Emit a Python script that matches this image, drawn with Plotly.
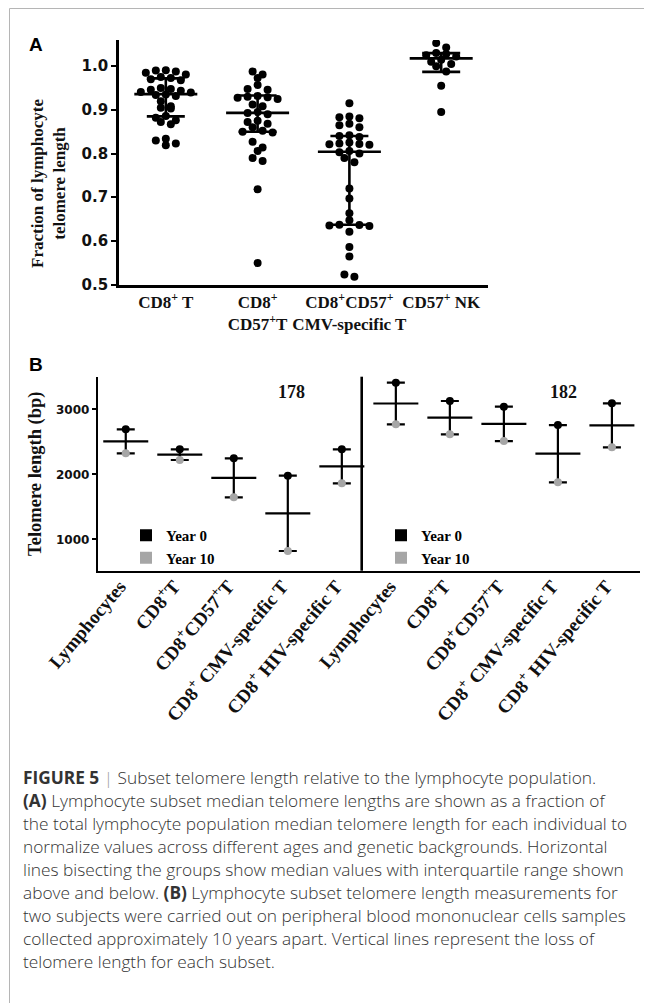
import numpy as np
import plotly.graph_objects as go

W, H = 652, 1003
OFF = 8                      # page body margin of the browser
FW, FH = W - OFF, H - OFF    # figure size so that it fits the window

# ---------------- Panel A data ----------------
a_groups = ["CD8<sup>+</sup> T",
            "CD8<sup>+</sup><br>CD57<sup>+</sup>T",
            "CD8<sup>+</sup>CD57<sup>+</sup><br>CMV-specific T",
            "CD57<sup>+</sup> NK"]
a_cd8 = [0.990, 0.991, 0.988, 0.985, 0.981, 0.975, 0.973, 0.970, 0.968, 0.950,
         0.948, 0.946, 0.944, 0.941, 0.940, 0.935, 0.934, 0.932, 0.920, 0.908,
         0.905, 0.903, 0.886, 0.882, 0.876, 0.872, 0.867, 0.834, 0.830, 0.823, 0.819]
a_cd8cd57 = [0.988, 0.981, 0.973, 0.957, 0.948, 0.946, 0.932, 0.930, 0.929, 0.928,
             0.925, 0.912, 0.908, 0.895, 0.893, 0.890, 0.875, 0.872, 0.868, 0.860,
             0.852, 0.850, 0.848, 0.827, 0.814, 0.806, 0.790, 0.783, 0.718, 0.549]
a_cmv = [0.915, 0.885, 0.883, 0.881, 0.868, 0.865, 0.860, 0.842, 0.840, 0.838,
         0.825, 0.823, 0.822, 0.821, 0.820, 0.806, 0.803, 0.800, 0.790, 0.780,
         0.720, 0.697, 0.663, 0.647, 0.637, 0.636, 0.635, 0.634, 0.621, 0.586,
         0.564, 0.523, 0.518]
a_nk = [1.053, 1.043, 1.030, 1.028, 1.025, 1.022, 1.015, 1.010, 1.005, 1.000,
        0.988, 0.955, 0.895]
a_median = [0.936, 0.893, 0.804, 1.018]
a_q1 = [0.885, 0.850, 0.637, 0.987]
a_q3 = [0.972, 0.933, 0.840, 1.030]
a_yticks = [0.5, 0.6, 0.7, 0.8, 0.9, 1.0]
a_ytitle = "Fraction of lymphocyte<br>telomere length"

# ---------------- Panel B data ----------------
b_cats = ["Lymphocytes", "CD8<sup>+</sup>T", "CD8<sup>+</sup>CD57<sup>+</sup>T",
          "CD8<sup>+</sup> CMV-specific T", "CD8<sup>+</sup> HIV-specific T"]
b_subjects = ["178", "182"]
b_year0_178 = [2692, 2385, 2246, 1979, 2385]
b_year10_178 = [2323, 2220, 1646, 820, 1862]
b_year0_182 = [3410, 3128, 3041, 2758, 3092]
b_year10_182 = [2769, 2615, 2512, 1877, 2415]
b_yticks = [1000, 2000, 3000]

# ---------------- layout geometry (pixels of the window) ----------------
def px_x(p):
    return (p - OFF) / FW

def px_y(p):
    return 1 - (p - OFF) / FH

A_L, A_R, A_T, A_B = 119, 488, 40, 284.5
A_XR = [0.49, 4.51]
A_YR = [0.5, 1.06]
B_L, B_R, B_T, B_B = 98, 640, 376.7, 570.7
B_XR = [0.486, 10.52]
B_YR = [517, 3502]

ax_ppu = (A_R - A_L) / (A_XR[1] - A_XR[0])
ay_ppu = (A_B - A_T) / (A_YR[1] - A_YR[0])
bx_ppu = (B_R - B_L) / (B_XR[1] - B_XR[0])
by_ppu = (B_B - B_T) / (B_YR[1] - B_YR[0])


def bx_of(p):
    return B_XR[0] + (p - B_L) / bx_ppu


def by_of(p):
    return B_YR[0] + (B_B - p) / by_ppu


def swarm(vals, row_h=6.0, step=10.0):
    """Row-based scatter layout (GraphPad style): offsets in px."""
    vals = np.asarray(vals, float)
    order = list(np.argsort(-vals))
    offs = np.zeros(len(vals))
    rows, cur = [], []
    for i in order:
        if cur and (vals[cur[0]] - vals[i]) * ay_ppu > row_h:
            rows.append(cur)
            cur = []
        cur.append(i)
    if cur:
        rows.append(cur)
    for r in rows:
        n = len(r)
        pos = [(k - (n - 1) / 2) * step for k in range(n)]
        pos.sort(key=lambda p: (abs(p), p))
        for i, p in zip(r, pos):
            offs[i] = p
    return offs


fig = go.Figure()

BLACK = "#000000"
GREY = "#a6a6a6"

# ---- Panel A: dots ----
groups = [a_cd8, a_cd8cd57, a_cmv, a_nk]
for gi, vals in enumerate(groups):
    offs = swarm(vals)
    fig.add_trace(go.Scatter(
        x=[gi + 1 + o / ax_ppu for o in offs], y=vals, mode="markers",
        marker=dict(color=BLACK, size=8, line=dict(width=0)),
        showlegend=False, xaxis="x", yaxis="y", hoverinfo="y"))

# ---- Panel A: median / IQR lines ----
med_hw = 31.5 / ax_ppu
cap_hw = 19.0 / ax_ppu
lx, ly = [], []
for i in range(4):
    c = i + 1
    lx += [c - med_hw, c + med_hw, None]
    ly += [a_median[i], a_median[i], None]
    lx += [c - cap_hw, c + cap_hw, None]
    ly += [a_q3[i], a_q3[i], None]
    lx += [c - cap_hw, c + cap_hw, None]
    ly += [a_q1[i], a_q1[i], None]
    lx += [c, c, None]
    ly += [a_q1[i], a_q3[i], None]
fig.add_trace(go.Scatter(x=lx, y=ly, mode="lines",
                         line=dict(color=BLACK, width=2.6),
                         showlegend=False, xaxis="x", yaxis="y", hoverinfo="skip"))

# ---- Panel B ----
bmid_hw = 22.5 / bx_ppu
bcap_hw = 9.0 / bx_ppu
subj_data = [(b_year0_178, b_year10_178), (b_year0_182, b_year10_182)]
for si, (y0, y10) in enumerate(subj_data):
    xs = [si * len(b_cats) + k + 1 for k in range(len(b_cats))]
    blx, bly = [], []
    for k, x in enumerate(xs):
        mean = (y0[k] + y10[k]) / 2
        blx += [x, x, None, x - bcap_hw, x + bcap_hw, None, x - bcap_hw, x + bcap_hw, None,
                x - bmid_hw, x + bmid_hw, None]
        bly += [y0[k], y10[k], None, y0[k], y0[k], None, y10[k], y10[k], None,
                mean, mean, None]
    fig.add_trace(go.Scatter(x=blx, y=bly, mode="lines",
                             line=dict(color=BLACK, width=2.2),
                             showlegend=False, xaxis="x2", yaxis="y2", hoverinfo="skip"))
    leg = "legend" if si == 0 else "legend2"
    fig.add_trace(go.Scatter(x=xs, y=y0, mode="markers", name="Year 0",
                             marker=dict(color=BLACK, size=8, symbol="circle"),
                             showlegend=False, xaxis="x2", yaxis="y2"))
    fig.add_trace(go.Scatter(x=xs, y=y10, mode="markers", name="Year 10",
                             marker=dict(color=GREY, size=8, symbol="circle"),
                             showlegend=False, xaxis="x2", yaxis="y2"))
    # legend entries (square keys as in the original figure)
    fig.add_trace(go.Scatter(x=[None], y=[None], mode="markers", name="Year 0",
                             marker=dict(color=BLACK, size=6, symbol="square"),
                             legend=leg, xaxis="x2", yaxis="y2"))
    fig.add_trace(go.Scatter(x=[None], y=[None], mode="markers", name="Year 10",
                             marker=dict(color=GREY, size=6, symbol="square"),
                             legend=leg, xaxis="x2", yaxis="y2"))

SERIF = "Liberation Serif"
NUM = "DejaVu Sans"

legend_style = dict(
    bgcolor="rgba(0,0,0,0)", borderwidth=0,
    font=dict(family=SERIF, size=15, color=BLACK, weight="bold"),
    xanchor="left", yanchor="top", xref="paper", yref="paper",
    itemsizing="constant", tracegroupgap=0, itemwidth=30,
)

fig.update_layout(
    width=FW, height=FH,
    margin=dict(l=0, r=0, t=0, b=0, autoexpand=False),
    paper_bgcolor="white", plot_bgcolor="white",
    xaxis=dict(domain=[px_x(A_L), px_x(A_R)], range=A_XR,
               tickvals=[1, 2, 3, 4], ticktext=a_groups, tickangle=0,
               showline=True, linecolor=BLACK, linewidth=2.6, ticks="",
               showgrid=False, zeroline=False, automargin=False,
               tickfont=dict(family=SERIF, size=17, color="#111", weight="bold"),
               anchor="y"),
    yaxis=dict(domain=[px_y(A_B), px_y(A_T)], range=A_YR,
               tickvals=a_yticks, tickformat=".1f",
               showline=True, linecolor=BLACK, linewidth=2.6,
               ticks="outside", ticklen=5, tickwidth=2, tickcolor=BLACK,
               showgrid=False, zeroline=False, automargin=False,
               tickfont=dict(family=NUM, size=15, color="#111", weight="bold"),
               anchor="x"),
    xaxis2=dict(domain=[px_x(B_L), px_x(B_R)], range=B_XR,
                tickvals=list(range(1, 11)), ticktext=b_cats + b_cats,
                tickangle=-50, ticklabelstandoff=-5, ticklabelshift=-6,
                showline=True, linecolor=BLACK, linewidth=2.4, ticks="",
                showgrid=False, zeroline=False, automargin=False,
                tickfont=dict(family=SERIF, size=19, color="#111", weight="bold"),
                anchor="y2"),
    yaxis2=dict(domain=[px_y(B_B), px_y(B_T)], range=B_YR,
                tickvals=b_yticks,
                showline=True, linecolor=BLACK, linewidth=2.4,
                ticks="outside", ticklen=4, tickwidth=1.5, tickcolor=BLACK,
                showgrid=False, zeroline=False, automargin=False,
                tickfont=dict(family=NUM, size=12, color="#111", weight="bold"),
                title=dict(text="Telomere length (bp)",
                           font=dict(family=SERIF, size=18.5, color="#111", weight="bold"),
                           standoff=10),
                anchor="x2"),
    legend=dict(x=px_x(126), y=px_y(519), **legend_style),
    legend2=dict(x=px_x(381), y=px_y(519), **legend_style),
)

# divider between subjects in panel B
fig.add_shape(type="line", xref="paper", yref="paper",
              x0=px_x(361.7), x1=px_x(361.7), y0=px_y(B_B), y1=px_y(B_T),
              line=dict(color=BLACK, width=2.6))

# frame lines (left and top) of the figure box
fig.add_shape(type="line", xref="paper", yref="paper",
              x0=px_x(9.5), x1=px_x(9.5), y0=0, y1=px_y(8.5),
              line=dict(color="#b5b5b5", width=1))
fig.add_shape(type="line", xref="paper", yref="paper",
              x0=px_x(9.5), x1=1, y0=px_y(8.5), y1=px_y(8.5),
              line=dict(color="#b5b5b5", width=1))

ann = []
ann.append(dict(text="<b>A</b>", x=px_x(27), y=px_y(45), xref="paper", yref="paper",
                xanchor="left", yanchor="middle", showarrow=False,
                font=dict(family="Liberation Sans", size=19, color=BLACK)))
ann.append(dict(text="<b>B</b>", x=px_x(27), y=px_y(364), xref="paper", yref="paper",
                xanchor="left", yanchor="middle", showarrow=False,
                font=dict(family="Liberation Sans", size=19, color=BLACK)))
# panel A y-axis title
ann.append(dict(text="<b>%s</b>" % a_ytitle.replace("<br>", "</b><br><b>"),
                x=px_x(48), y=px_y(184), xref="paper", yref="paper",
                xanchor="center", yanchor="middle", textangle=-90, showarrow=False,
                font=dict(family=SERIF, size=17, color="#111")))
subj_px = [291.7, 563.0]
for si, subj in enumerate(b_subjects):
    ann.append(dict(text="<b>%s</b>" % subj, x=bx_of(subj_px[si]), y=by_of(391.7),
                    xref="x2", yref="y2", xanchor="center", yanchor="middle",
                    showarrow=False,
                    font=dict(family=SERIF, size=18, color="#111")))

caption = [
    "<b>FIGURE 5</b> <span style='color:#9a9a9a'>|</span> Subset telomere length relative to the lymphocyte population.",
    "<b>(A)</b> Lymphocyte subset median telomere lengths are shown as a fraction of",
    "the total lymphocyte population median telomere length for each individual to",
    "normalize values across different ages and genetic backgrounds. Horizontal",
    "lines bisecting the groups show median values with interquartile range shown",
    "above and below. <b>(B)</b> Lymphocyte subset telomere length measurements for",
    "two subjects were carried out on peripheral blood mononuclear cells samples",
    "collected approximately 10 years apart. Vertical lines represent the loss of",
    "telomere length for each subset.",
]
for i, line in enumerate(caption):
    ann.append(dict(text=line, x=px_x(21), y=px_y(777 + 23.1 * i),
                    xref="paper", yref="paper", xanchor="left", yanchor="middle",
                    showarrow=False,
                    font=dict(family="Open Sans", size=17.3, color="#333333", weight=300)))

fig.update_layout(annotations=ann)

fig.write_html("out.html")
